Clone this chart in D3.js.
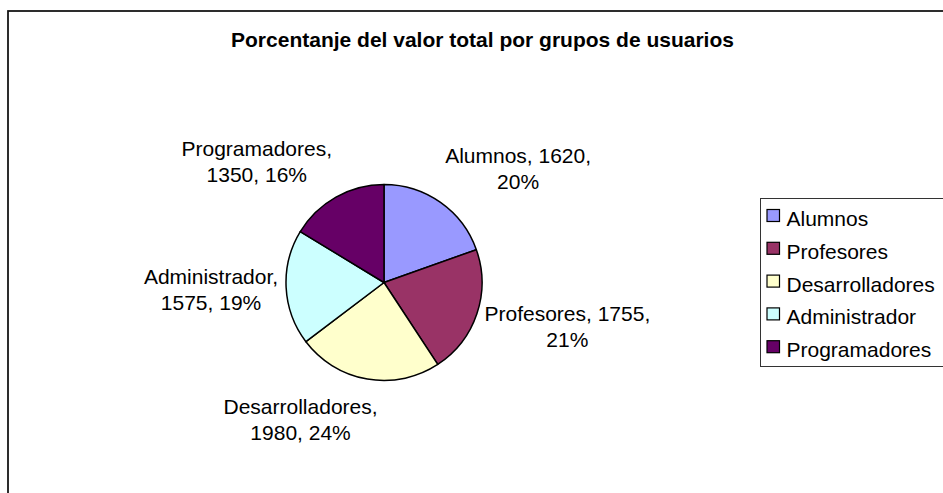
<!DOCTYPE html>
<html>
<head>
<meta charset="utf-8">
<script src="https://cdn.jsdelivr.net/npm/d3@7"></script>
<style>
    body { margin: 0; background: #fff; }
    svg text { font-family: "Liberation Sans", Arial, sans-serif; fill: #000; }
</style>
</head>
<body>
<svg id="chart"></svg>
<script>
// Data
const groups = ['Alumnos', 'Profesores', 'Desarrolladores', 'Administrador', 'Programadores'];
const totals = [1620, 1755, 1980, 1575, 1350];
const sliceColors = ['#9999FF', '#993366', '#FFFFCC', '#CCFFFF', '#660066'];
const chartTitle = 'Porcentanje del valor total por grupos de usuarios';

class PieChart {

    constructor(_config, _data) {
        this.config = {
            parentElement: _config.parentElement,
            containerWidth: 943,
            containerHeight: 493,
            center: {x: 384, y: 282.5},
            radius: 98,
            labelGap: 8,
            labelWrap: 170,
            lineHeight: 26,
            labelLift: 33,
            legend: {left: 760.5, top: 198.5, bottom: 366.5, firstBaseline: 226, rowStep: 32.8}
        };
        this.data = _data;
        this.initVis();
    }

    initVis() {
        let vis = this;

        vis.svg = d3.select(vis.config.parentElement)
            .attr('width', vis.config.containerWidth)
            .attr('height', vis.config.containerHeight);

        // chart frame (runs off the right and bottom edge in the original)
        vis.svg.append('rect')
            .attr('x', 8)
            .attr('y', 11)
            .attr('width', 949)
            .attr('height', 520)
            .attr('fill', '#fff')
            .attr('stroke', '#111')
            .attr('stroke-width', 1.75);

        vis.svg.append('text')
            .attr('x', 482.5)
            .attr('y', 47)
            .attr('text-anchor', 'middle')
            .style('font-size', '21px')
            .style('font-weight', 'bold')
            .text(chartTitle);

        vis.colorScale = d3.scaleOrdinal()
            .domain(groups)
            .range(sliceColors);

        vis.pie = d3.pie()
            .sort(null)
            .value(d => d.value);

        vis.arc = d3.arc()
            .innerRadius(0)
            .outerRadius(vis.config.radius);

        vis.labelArc = d3.arc()
            .innerRadius(vis.config.radius + vis.config.labelGap)
            .outerRadius(vis.config.radius + vis.config.labelGap);

        vis.chart = vis.svg.append('g')
            .attr('transform', `translate(${vis.config.center.x},${vis.config.center.y})`);

        vis.renderVis();
        vis.renderLegend();
    }

    renderVis() {
        let vis = this;
        const total = d3.sum(vis.data, d => d.value);
        const arcs = vis.pie(vis.data);

        vis.chart.selectAll('.slice')
            .data(arcs)
            .join('path')
            .attr('class', 'slice')
            .attr('d', vis.arc)
            .attr('fill', d => vis.colorScale(d.data.group))
            .attr('stroke', '#000')
            .attr('stroke-width', 1.5)
            .attr('stroke-linejoin', 'round');

        // Data labels: "name, value, pct" wrapped like Excel does
        const labels = vis.chart.selectAll('.slice-label')
            .data(arcs)
            .join('text')
            .attr('class', 'slice-label')
            .attr('text-anchor', 'middle')
            .style('font-size', '21px')
            .text(d => `${d.data.group}, ${d.data.value}, ${Math.round(d.data.value / total * 100)}%`);

        labels.each(function (d) {
            const text = d3.select(this);
            const lines = wrap(text, vis.config.labelWrap);
            const w = d3.max(lines, l => l.node().getComputedTextLength());

            // place the label box just outside the slice, pushed away from the pie
            const mid = (d.startAngle + d.endAngle) / 2;
            const s = Math.sin(mid), c = Math.cos(mid);
            const [px, py] = vis.labelArc.centroid(d);
            const cx = px + Math.sign(s) * Math.min(1, Math.abs(s) * 5) * w / 2;
            const cy = py - vis.config.labelLift * c;
            const firstBaseline = cy - (lines.length - 1) * vis.config.lineHeight / 2 + 7.5;

            lines.forEach((l, i) => {
                l.attr('x', cx).attr('y', firstBaseline + i * vis.config.lineHeight);
            });
        });
    }

    renderLegend() {
        let vis = this;
        const lg = vis.config.legend;

        vis.svg.append('rect')
            .attr('x', lg.left)
            .attr('y', lg.top)
            .attr('width', 300)
            .attr('height', lg.bottom - lg.top)
            .attr('fill', '#fff')
            .attr('stroke', '#333')
            .attr('stroke-width', 1);

        const rows = vis.svg.selectAll('.legend-row')
            .data(vis.data)
            .join('g')
            .attr('class', 'legend-row')
            .attr('transform', (d, i) => `translate(${lg.left},${lg.firstBaseline + i * lg.rowStep})`);

        rows.append('rect')
            .attr('x', 6.5)
            .attr('y', -16.5)
            .attr('width', 12.5)
            .attr('height', 12)
            .attr('fill', d => vis.colorScale(d.group))
            .attr('stroke', '#000')
            .attr('stroke-width', 1.2);

        rows.append('text')
            .attr('x', 26)
            .attr('y', 0)
            .style('font-size', '21px')
            .text(d => d.group);
    }
}

// Greedy word wrap into tspans, returns the line selections
function wrap(text, width) {
    const words = text.text().split(/\s+/);
    text.text(null);
    const lines = [];
    let line = [];
    let tspan = text.append('tspan');
    lines.push(tspan);
    words.forEach(word => {
        line.push(word);
        tspan.text(line.join(' '));
        if (tspan.node().getComputedTextLength() > width && line.length > 1) {
            line.pop();
            tspan.text(line.join(' '));
            line = [word];
            tspan = text.append('tspan').text(word);
            lines.push(tspan);
        }
    });
    return lines;
}

const data = groups.map((g, i) => ({group: g, value: totals[i]}));
new PieChart({parentElement: '#chart'}, data);
</script>
</body>
</html>
